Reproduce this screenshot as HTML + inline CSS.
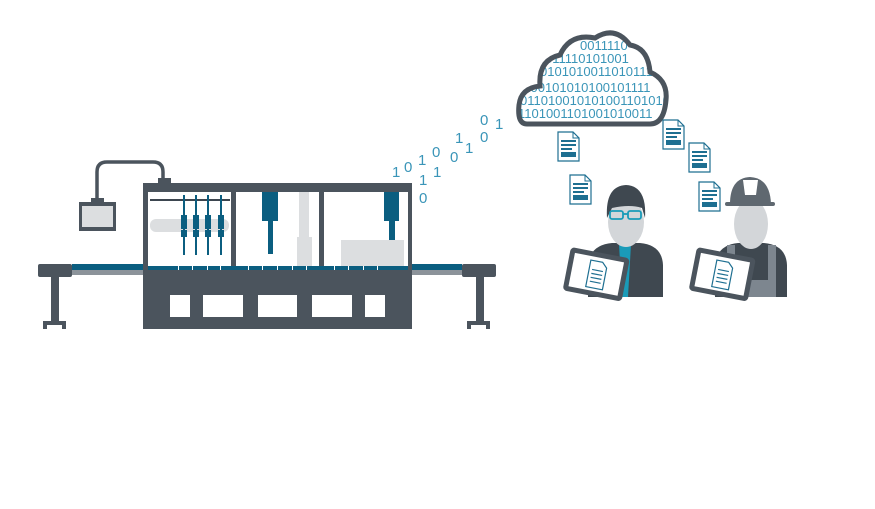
<!DOCTYPE html>
<html><head><meta charset="utf-8"><style>
html,body{margin:0;padding:0;background:#fff;width:875px;height:509px;overflow:hidden}
svg{display:block}
text{font-family:"Liberation Sans",sans-serif}
</style></head><body>
<svg width="875" height="509" viewBox="0 0 875 509" xmlns="http://www.w3.org/2000/svg">
<defs>
<g id="doc">
<path d="M0 0 H15 L21 6 V29 H0 Z" fill="#fff" stroke="#1e6f91" stroke-width="1.2"/>
<path d="M15 0 V6 H21" fill="none" stroke="#1e6f91" stroke-width="1"/>
<rect x="3" y="8" width="15" height="2" fill="#1e6f91"/>
<rect x="3" y="12" width="15" height="2" fill="#1e6f91"/>
<rect x="3" y="16" width="11" height="2" fill="#1e6f91"/>
<rect x="3" y="20" width="15" height="5" fill="#1e6f91"/>
</g>
<g id="tab">
<rect x="0" y="0" width="60" height="44" rx="4" fill="#4b545d"/>
<rect x="5" y="5" width="50" height="34" fill="#fff"/>
<path d="M22 9 H34 L39 14 V36 H22 Z" fill="#fff" stroke="#1e6f91" stroke-width="1.2"/>
<g stroke="#1e6f91" stroke-width="1.2"><line x1="25" y1="18" x2="36" y2="18"/><line x1="25" y1="22" x2="36" y2="22"/><line x1="25" y1="26" x2="36" y2="26"/><line x1="25" y1="30" x2="36" y2="30"/></g>
</g>
</defs>

<!-- conveyor -->
<rect x="72" y="264" width="390" height="6" fill="#0b5e80"/>
<rect x="72" y="270" width="390" height="5" fill="#8c939a"/>
<rect x="38" y="264" width="34" height="13" rx="2" fill="#4b545d"/>
<rect x="462" y="264" width="34" height="13" rx="2" fill="#4b545d"/>
<rect x="51" y="277" width="8" height="44" fill="#4b545d"/>
<path d="M43 321 H66 V329 H62 V325 H47 V329 H43 Z" fill="#4b545d"/>
<rect x="476" y="277" width="8" height="44" fill="#4b545d"/>
<path d="M467 321 H490 V329 H486 V325 H471 V329 H467 Z" fill="#4b545d"/>

<!-- monitor & cable -->
<path d="M97 202 V172 Q97 162 107 162 H153 Q163 162 163 172 V180" fill="none" stroke="#4b545d" stroke-width="3.5"/>
<rect x="91" y="198" width="13" height="5" fill="#4b545d"/>
<rect x="158" y="178" width="13" height="6" fill="#4b545d"/>
<rect x="79" y="202" width="37" height="29" fill="#4b545d"/>
<rect x="82" y="206" width="31" height="21" fill="#dcdee0"/>

<!-- machine -->
<rect x="143" y="183" width="269" height="146" fill="#4b545d"/>
<rect x="148" y="192" width="83" height="75" fill="#fff"/>
<rect x="236" y="192" width="83" height="75" fill="#fff"/>
<rect x="324" y="192" width="84" height="75" fill="#fff"/>
<rect x="150" y="219" width="79" height="13" rx="6" fill="#dcdee0"/>
<rect x="150" y="199" width="80" height="2" fill="#3d4650"/>
<g fill="#0b5e80">
<rect x="183" y="195" width="2" height="60"/><rect x="181" y="215" width="6" height="14"/><rect x="181" y="230" width="6" height="7"/>
<rect x="195" y="195" width="2" height="60"/><rect x="193" y="215" width="6" height="14"/><rect x="193" y="230" width="6" height="7"/>
<rect x="207" y="195" width="2" height="60"/><rect x="205" y="215" width="6" height="14"/><rect x="205" y="230" width="6" height="7"/>
<rect x="220" y="195" width="2" height="60"/><rect x="218" y="215" width="6" height="14"/><rect x="218" y="230" width="6" height="7"/>
</g>
<rect x="299" y="192" width="10" height="75" fill="#dcdee0"/>
<rect x="297" y="237" width="15" height="30" fill="#dcdee0"/>
<rect x="262" y="192" width="16" height="29" fill="#0b5e80"/>
<rect x="268" y="221" width="5" height="33" fill="#0b5e80"/>
<rect x="341" y="240" width="63" height="27" fill="#dcdee0"/>
<rect x="384" y="192" width="15" height="29" fill="#0b5e80"/>
<rect x="389" y="221" width="6" height="19" fill="#0b5e80"/>
<rect x="148" y="266" width="260" height="4" fill="#0b5e80"/>
<g fill="#fff"><rect x="178" y="266" width="1" height="4"/><rect x="192" y="266" width="1" height="4"/><rect x="207" y="266" width="1" height="4"/><rect x="220" y="266" width="1" height="4"/><rect x="248" y="266" width="1" height="4"/><rect x="262" y="266" width="1" height="4"/><rect x="277" y="266" width="1" height="4"/><rect x="292" y="266" width="1" height="4"/><rect x="306" y="266" width="1" height="4"/><rect x="334" y="266" width="1" height="4"/><rect x="348" y="266" width="1" height="4"/><rect x="363" y="266" width="1" height="4"/><rect x="377" y="266" width="1" height="4"/></g>
<g fill="#fff">
<rect x="170" y="295" width="20" height="22"/><rect x="203" y="295" width="40" height="22"/><rect x="258" y="295" width="39" height="22"/><rect x="312" y="295" width="40" height="22"/><rect x="365" y="295" width="20" height="22"/>
</g>

<!-- binary stream -->
<g fill="#3a95b8" font-size="15">
<text x="392" y="177">1</text><text x="404" y="172">0</text><text x="418" y="165">1</text><text x="432" y="157">0</text><text x="455" y="143">1</text><text x="480" y="125">0</text><text x="495" y="129">1</text>
<text x="433" y="177">1</text><text x="450" y="162">0</text><text x="465" y="153">1</text><text x="480" y="142">0</text>
<text x="419" y="185">1</text><text x="419" y="203">0</text>
</g>

<!-- cloud -->
<clipPath id="cc"><path d="M527 124 Q517 124 519 105 Q521 88 540 86 Q538 60 560 55 Q570 33 595 38 Q615 25 630 45 Q648 48 650 72 Q668 80 666 100 Q664 124 650 124 Z"/></clipPath>
<g clip-path="url(#cc)" fill="#3a95b8" font-size="13" font-family="Liberation Mono">
<text x="580" y="50">0011110</text>
<text x="545" y="63">011110101001</text>
<text x="540" y="76">01010100110101110</text>
<text x="517" y="92">1100101010100101111</text>
<text x="520" y="105">0110100101010011010101</text>
<text x="518" y="118">1101001101001010011</text>
</g>
<path d="M527 124 Q517 124 519 105 Q521 88 540 86 Q538 60 560 55 Q570 33 595 38 Q615 25 630 45 Q648 48 650 72 Q668 80 666 100 Q664 124 650 124 Z" fill="none" stroke="#4b545d" stroke-width="5"/>

<use href="#doc" x="558" y="132"/>
<use href="#doc" x="570" y="175"/>
<use href="#doc" x="663" y="120"/>
<use href="#doc" x="689" y="143"/>
<use href="#doc" x="699" y="182"/>

<!-- person1 -->
<path d="M588 297 V265 Q590 245 612 243 H640 Q662 245 663 265 V297 Z" fill="#3f4850"/>
<path d="M619 244 H631 L628 297 H622 Z" fill="#1a9bb8"/>
<rect x="621" y="242" width="7" height="7" transform="rotate(45 624.5 245.5)" fill="#1a9bb8"/>
<ellipse cx="626" cy="222" rx="18" ry="25" fill="#d3d6d9"/>
<path d="M607 218 Q605 186 626 185 Q647 186 645 218 L642 208 Q630 204 612 208 Z" fill="#3f4850"/>
<g fill="none" stroke="#1a9bb8" stroke-width="1.8"><rect x="610" y="211" width="13" height="8" rx="2"/><rect x="628" y="211" width="13" height="8" rx="2"/><line x1="623" y1="214" x2="628" y2="214"/></g>
<use href="#tab" transform="translate(571 247) rotate(11)"/>

<!-- person2 -->
<path d="M715 297 V265 Q717 245 738 243 H764 Q786 245 787 265 V297 Z" fill="#3f4850"/>
<path d="M727 245 H735 V297 H727 Z M768 245 H776 V297 H768 Z" fill="#7d868f"/>
<rect x="735" y="280" width="33" height="17" fill="#7d868f"/>
<ellipse cx="751" cy="224" rx="17" ry="25" fill="#d3d6d9"/>
<path d="M730 204 Q730 178 750 177 Q770 178 771 204 Z" fill="#5f6870"/>
<path d="M743 180 H758 L756 195 H745 Z" fill="#fff"/>
<rect x="725" y="202" width="50" height="4" rx="2" fill="#5f6870"/>
<use href="#tab" transform="translate(697 247) rotate(11)"/>
</svg>
</body></html>
